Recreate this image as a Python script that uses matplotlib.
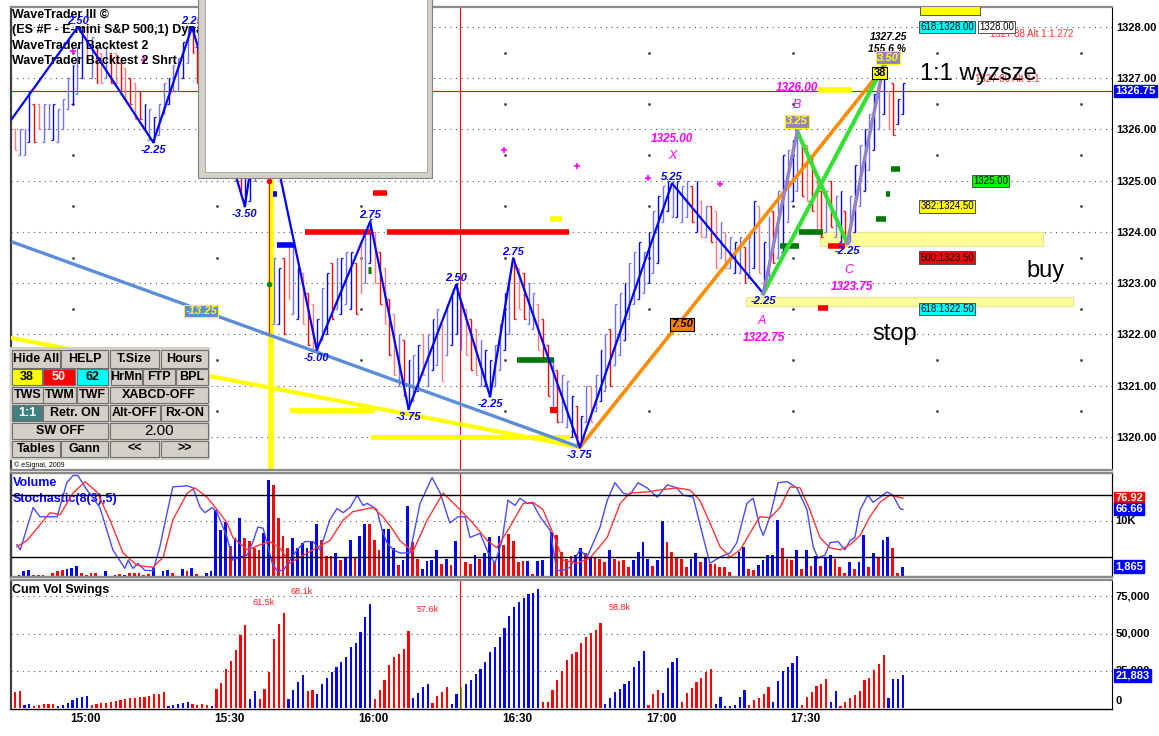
import numpy as np
import matplotlib
matplotlib.use("Agg")
import matplotlib.pyplot as plt
from matplotlib.patches import Rectangle

plt.rcParams['font.family'] = ['Liberation Sans', 'DejaVu Sans']

# ---- 1-minute bars (minutes from 15:00, first bar ~14:45) ----
bar_low = [
    1325.6, 1325.5, 1325.5, 1325.75, 1325.75, 1326.0, 1325.75, 1326.0, 1325.8, 1325.75,
    1326.0, 1326.4, 1326.5, 1326.7, 1327.0, 1327.3, 1327.0, 1326.9, 1326.9, 1327.0,
    1326.9, 1326.9, 1326.7, 1326.6, 1326.5, 1326.2, 1326.2, 1326.0, 1325.8, 1325.75,
    1325.9, 1326.3, 1326.5, 1326.75, 1326.75, 1327.0, 1327.3, 1327.5, 1326.9, 1326.6,
    1326.4, 1326.2, 1326.0, 1325.8, 1325.5, 1325.2, 1325.0, 1324.7, 1324.5, 1324.6,
    1325.0, 1325.6, 1325.8, 1325.0, 1322.2, 1322.2, 1322.0, 1322.7, 1322.4, 1322.3,
    1322.2, 1321.8, 1321.7, 1321.7, 1321.9, 1322.0, 1322.3, 1322.5, 1322.4, 1322.6,
    1322.5, 1322.4, 1322.8, 1323.0, 1323.4, 1323.0, 1322.6, 1322.2, 1321.6, 1321.2,
    1321.0, 1320.8, 1320.55, 1320.7, 1320.9, 1321.2, 1321.0, 1321.3, 1321.4, 1321.1,
    1321.6, 1321.8, 1322.0, 1321.7, 1321.6, 1321.3, 1321.2, 1321.0, 1321.0, 1320.8,
    1321.0, 1321.3, 1321.7, 1322.0, 1322.3, 1322.5, 1322.3, 1322.2, 1322.1, 1321.7,
    1321.5, 1320.8, 1320.5, 1320.3, 1320.3, 1320.2, 1320.0, 1319.8, 1319.8, 1320.3,
    1320.3, 1320.5, 1320.7, 1320.9, 1321.0, 1321.4, 1321.6, 1321.9, 1322.3, 1322.6,
    1322.7, 1322.8, 1323.0, 1323.2, 1323.4, 1324.2, 1324.4, 1324.3, 1324.3, 1324.2,
    1324.3, 1324.2, 1324.0, 1323.9, 1323.9, 1323.8, 1323.3, 1323.5, 1323.3, 1323.3,
    1323.2, 1323.2, 1323.0, 1323.1, 1323.3, 1323.2, 1322.8, 1323.0, 1323.4, 1323.5,
    1323.6, 1324.2, 1324.6, 1324.8, 1324.7, 1324.6, 1324.4, 1324.0, 1323.9, 1324.0,
    1324.1, 1323.9, 1323.8, 1323.8, 1323.8, 1324.0, 1324.5, 1324.8, 1325.2, 1325.6,
    1326.0, 1326.3, 1326.0, 1325.9, 1326.1, 1326.3]
bar_high = [
    1326.0, 1326.0, 1326.0, 1326.75, 1326.5, 1326.5, 1326.5, 1326.5, 1326.5, 1326.4,
    1326.6, 1327.0, 1327.25, 1327.6, 1328.0, 1328.0, 1327.8, 1327.6, 1327.5, 1327.6,
    1327.5, 1327.5, 1327.3, 1327.2, 1327.0, 1326.9, 1326.75, 1326.5, 1326.4, 1326.25,
    1326.5, 1326.9, 1327.0, 1327.25, 1327.4, 1327.7, 1328.0, 1328.0, 1327.6, 1327.3,
    1327.0, 1326.8, 1326.6, 1326.4, 1326.2, 1325.9, 1325.6, 1325.3, 1325.2, 1325.3,
    1326.0, 1326.75, 1326.6, 1326.2, 1323.5, 1323.3, 1323.5, 1323.8, 1323.8, 1323.3,
    1323.2, 1322.8, 1322.6, 1322.3, 1322.9, 1323.2, 1323.4, 1323.5, 1323.5, 1323.6,
    1323.6, 1323.4, 1323.8, 1324.0, 1324.25, 1324.0, 1323.6, 1323.3, 1322.7, 1322.4,
    1322.0, 1321.9, 1321.5, 1321.6, 1321.8, 1322.0, 1322.0, 1322.3, 1322.5, 1322.2,
    1322.6, 1322.8, 1323.0, 1322.6, 1322.5, 1322.3, 1322.1, 1321.9, 1321.7, 1321.5,
    1321.8, 1322.2, 1322.8, 1323.1, 1323.5, 1323.3, 1323.2, 1323.0, 1322.8, 1322.6,
    1322.3, 1321.8, 1321.5, 1321.3, 1321.2, 1321.1, 1320.8, 1320.6, 1320.4, 1321.0,
    1321.0, 1321.2, 1321.7, 1322.0, 1322.1, 1322.6, 1322.8, 1323.0, 1323.4, 1323.6,
    1323.8, 1323.6, 1324.0, 1324.4, 1324.7, 1324.9, 1325.0, 1325.0, 1325.0, 1324.9,
    1325.0, 1324.9, 1325.0, 1324.6, 1324.5, 1324.5, 1324.4, 1324.2, 1324.0, 1323.9,
    1323.8, 1323.9, 1323.7, 1323.9, 1324.6, 1324.5, 1323.8, 1324.3, 1324.4, 1324.8,
    1325.5, 1325.6, 1325.8, 1326.0, 1325.8, 1325.7, 1325.5, 1325.0, 1324.8, 1324.8,
    1325.0, 1324.7, 1324.8, 1324.4, 1324.7, 1325.3, 1325.7, 1326.0, 1326.3, 1326.7,
    1327.0, 1327.25, 1326.75, 1326.9, 1326.6, 1326.9]
# b/l = up (dark/light blue), r/p = down (red/pink)
bar_col = ("pllbrpllbl" "llblbplrpl" "rprprprblb" "llbllblrrp" "rprrprlrbb"
           "lbrrlbrplb" "prpblbrlbl" "brplbprprp" "lrblbplblp" "lbblprplbb"
           "llblrprllp" "rrlrllbrbl" "plblrllbll" "blblblblbl" "lrbplrplpl"
           "blrlbpblrl" "blblrprprl" "rlbrlblblb" "lbprbb")

# ---- volume (thousands) ----
volume = [0.4, 1.0, 1.3, 0.4, 0.4, 0.4, 0, 0.7, 1.0, 1.3,
          1.5, 1.6, 1.9, 0.7, 0.4, 0.7, 0.8, 0, 1.0, 0,
          0.4, 0.5, 0.4, 0.7, 0.8, 0.7, 0.4, 0.5, 1.6, 0,
          1.0, 1.3, 0.7, 0, 1.5, 1.0, 1.6, 0.5, 0, 0.7,
          1.0, 12.0, 8.4, 9.9, 5.5, 7.0, 10.6, 7.0, 6.4, 5.2,
          4.8, 7.8, 17.3, 16.4, 10.6, 7.3, 5.2, 7.0, 5.2, 6.1,
          5.2, 6.4, 9.4, 6.6, 3.8, 3.8, 4.3, 3.1, 3.4, 6.6,
          3.4, 7.3, 9.4, 9.4, 6.6, 4.8, 8.6, 8.6, 5.2, 2.2,
          3.0, 12.6, 6.3, 3.3, 1.5, 2.9, 3.0, 4.8, 2.4, 3.2,
          2.1, 6.4, 0, 2.7, 2.4, 3.9, 3.2, 4.2, 7.2, 2.7,
          7.3, 5.7, 7.6, 6.4, 2.7, 2.9, 2.9, 0.5, 2.9, 3.0,
          0, 8.1, 7.5, 4.5, 3.3, 3.75, 3.9, 5.2, 4.2, 3.6,
          3.5, 3.2, 2.7, 4.8, 3.2, 2.9, 3.0, 1.7, 3.0, 4.5,
          6.3, 3.3, 2.0, 3.0, 10.0, 6.3, 4.5, 3.5, 3.3, 1.8,
          3.3, 4.3, 2.6, 3.5, 2.4, 2.4, 1.8, 1.7, 0.95, 0,
          4.5, 5.3, 1.5, 1.25, 2.1, 3.0, 3.9, 3.9, 10.2, 5.1,
          3.2, 3.0, 4.8, 1.5, 4.9, 2.0, 3.75, 2.0, 3.6, 4.0,
          3.2, 1.7, 0.7, 2.6, 1.5, 2.7, 7.5, 1.8, 4.3, 3.5,
          6.6, 7.2, 5.1, 0.8, 1.8]
vol_col = ("bbbrrrrrrr" "bbbrrrrrbb" "brbrrrrrbb" "bbrrbrbrrb" "bbbbrbbrrr"
           "rbbrrrrbbb" "bbbrrrbrbb" "rbbrrrbbbr" "bbrrbbbbrb" "rbrrrbrbbr"
           "brrrrrbrbb" "bbrrrrbbrb" "rrrbrrrrbb" "bbrbbrrrrr" "bbrbrrrrrb"
           "bbrrbbbbbr" "rrbrbrbrbb" "rrrbrbbrbr" "bbrrb")

# ---- stochastic %K / %D ----
stoch_k_t = [-14.2, -13.5, -10.8, -9.4, -5.8, -3.8, -2.5, -1.5, 0.4, 3.1, 5.8, 8.3, 9.0, 10.0,
             11.0, 12.5, 14.2, 15.6, 17.1, 18.3, 21.3, 22.5, 24.0, 25.0, 26.5, 27.5, 29.6, 30.8,
             32.3, 33.8, 35.0, 36.0, 37.1, 37.9, 39.0, 40.0, 41.3, 42.7, 44.2, 45.8, 47.5, 49.0,
             51.0, 52.5, 53.8, 55.2, 56.7, 57.9, 58.8, 60.8, 61.9, 62.9, 64.2, 65.6, 67.7, 69.8,
             72.3, 74.0, 76.0, 77.7, 79.2, 80.2, 82.3, 84.0, 85.4, 86.9, 88.1, 89.6, 90.6, 92.1,
             93.3, 94.8, 96.9, 98.3, 99.6, 101.0, 103.1, 104.6, 107.3, 108.8, 110.4, 112.1, 113.5,
             115.2, 117.1, 119.2, 121.3, 123.3, 124.6, 126.7, 128.8, 130.2, 132.3, 134.4, 135.8,
             137.9, 139.2, 140.6, 141.3, 142.7, 144.4, 146.3, 148.3, 150.4, 151.7, 152.7, 154.2,
             155.2, 156.9, 158.3, 159.4, 160.4, 161.5, 163.1, 164.2, 167.1, 168.3, 169.8, 170.4]
stoch_k = [32, 27, 68, 59, 59, 92, 99, 99, 85, 68, 27, 9, 17, 9, 14, 7, 7, 30, 63, 88, 89, 87,
           68, 63, 68, 63, 39, 17, 20, 22, 35, 49, 48, 34, 14, 7, 7, 17, 27, 35, 35, 27, 56, 67,
           63, 68, 80, 70, 72, 66, 46, 34, 27, 24, 24, 72, 97, 82, 53, 59, 59, 39, 43, 24, 14,
           36, 75, 70, 77, 72, 72, 59, 46, 7, 7, 10, 27, 20, 49, 75, 92, 82, 80, 92, 87, 78, 90,
           87, 80, 78, 39, 14, 20, 24, 34, 72, 77, 49, 41, 59, 92, 93, 87, 66, 30, 19, 22, 34,
           35, 27, 36, 39, 66, 80, 73, 83, 80, 67, 66]
stoch_d_t = [-14.2, -12.1, -7.3, -5.2, -2.5, 0.0, 2.5, 5.2, 7.9, 10.8, 14.2, 16.3, 18.3, 21.3,
             22.9, 25.4, 27.5, 29.6, 30.8, 33.8, 36.5, 38.5, 40.6, 42.7, 44.8, 47.5, 51.0, 53.8,
             55.8, 57.9, 60.0, 62.1, 64.2, 65.6, 68.3, 71.3, 74.6, 78.1, 80.8, 83.8, 85.8, 88.5,
             91.3, 93.3, 95.4, 97.5, 99.6, 102.5, 105.2, 108.8, 111.5, 113.5, 117.1, 119.8, 123.3,
             126.0, 128.1, 130.2, 132.3, 134.4, 136.5, 138.5, 140.6, 142.7, 144.8, 146.9, 149.0,
             151.0, 153.1, 155.2, 157.3, 159.4, 161.5, 163.5, 165.6, 167.7, 170.4]
stoch_d = [30, 36, 63, 61, 82, 93, 83, 56, 24, 12, 10, 20, 56, 82, 87, 78, 66, 53, 39, 27, 32,
           35, 29, 14, 20, 27, 36, 56, 64, 66, 68, 59, 46, 36, 25, 56, 82, 66, 53, 36, 29, 49,
           72, 73, 66, 43, 17, 14, 19, 39, 72, 82, 83, 85, 87, 85, 75, 53, 30, 20, 27, 43, 59,
           58, 68, 88, 87, 66, 39, 29, 27, 32, 41, 59, 73, 80, 77]

# ---- cumulative volume swings (thousands) ----
cum_vol = [10.9, 11.6, 2.0, 2.4, 1.3, 2.0, 2.4, 2.4, 2.4, 1.3,
           2.0, 3.1, 5.3, 6.4, 7.6, 8.0, 2.0, 2.4, 3.1, 3.1,
           3.8, 4.7, 5.3, 5.8, 6.4, 6.9, 7.1, 7.6, 8.0, 9.3,
           9.3, 10.9, 1.3, 2.0, 2.4, 3.1, 4.2, 2.7, 2.0, 2.4,
           2.0, 1.3, 12.7, 17.1, 26.0, 31.3, 38.7, 49.1, 56.0, 5.8,
           11.6, 5.8, 12.7, 24.2, 46.4, 56.4, 63.8, 5.8, 12.0, 17.6,
           22.0, 11.6, 12.0, 9.3, 16.4, 20.2, 24.2, 27.6, 30.9, 34.2,
           40.9, 43.8, 51.3, 60.9, 70.2, 6.0, 12.0, 18.7, 28.7, 34.2,
           36.4, 39.8, 52.0, 6.4, 10.2, 14.2, 15.8, 3.1, 8.0, 10.9,
           14.2, 2.4, 9.3, 14.2, 16.4, 19.1, 23.1, 26.4, 30.9, 37.6,
           40.9, 48.0, 53.8, 61.6, 68.0, 70.9, 74.2, 76.4, 77.1, 80.2,
           3.8, 3.8, 12.0, 18.7, 24.7, 32.4, 36.4, 37.6, 43.6, 47.6,
           50.4, 52.4, 57.1, 2.4, 6.4, 10.9, 13.1, 16.4, 18.2, 27.6,
           31.6, 38.0, 2.0, 9.3, 12.4, 10.2, 27.1, 30.9, 33.8, 3.8,
           9.8, 13.6, 17.6, 20.4, 24.2, 26.4, 2.7, 7.1, 1.3, 1.3,
           2.0, 7.1, 12.4, 2.0, 5.3, 6.4, 9.3, 13.8, 3.8, 18.2,
           24.9, 27.6, 30.2, 34.7, 2.0, 7.6, 10.9, 14.7, 16.4, 19.3,
           4.2, 11.3, 1.3, 4.2, 6.4, 8.7, 11.3, 18.7, 20.4, 25.3,
           29.3, 35.3, 6.9, 19.3, 19.8, 22.0]
cum_col = ("rrbbrrrrrb" "bbbbbbrrrr" "rrrrrrrrrr" "rrbbbbbrrr" "rbrrrrrrrb"
           "brrrrrrbbb" "brrbbbbbbb" "bbbbbrrrrr" "rrrbbbbrrr" "rbbgbbbbbb"
           "bbbbbbbbbb" "rrrrrrrrrr" "rrrbbbbbbb" "bbrrrbbbbr" "rrrrrrbbbb"
           "bbbrrrrrbb" "bbbbrrrrrr" "bbrrrrrrrr" "rrbbbb")
cum_notes = [(37.1, 70.7, "61.5k"), (45.2, 78.0, "68.1k"), (71.5, 66.0, "57.6k"), (111.3, 67.3, "58.8k")]

# ---- wave zigzag (swing points) ----
zz_t = [-15.3, -1.5, 14.2, 22.3, 33.3, 36.9, 48.3, 59.4, 67.4, 77.3, 84.4, 89.2,
        103.1, 122.3, 141.3, 148.4, 158.8, 166.4]
zz_p = [1326.2, 1328.0, 1325.75, 1328.0, 1324.5, 1326.75, 1321.7, 1324.2, 1320.55, 1322.97,
        1320.79, 1323.49, 1319.8, 1324.95, 1322.8, 1325.96, 1323.78, 1327.25]
zz_lab = ["", "2.50", "-2.25", "2.25", "-3.50", "", "-5.00", "2.75", "-3.75", "2.50",
          "-2.25", "2.75", "-3.75", "5.25", "-2.25", "", "-2.25", ""]

fib_boxes = [("618:1328.00", 1328.0, "#00FFFF"), ("382:1324.50", 1324.5, "#FFFF00"),
             ("500:1323.50", 1323.5, "#FF0000"), ("618:1322.50", 1322.5, "#00FFFF")]

time_ticks = [0, 30, 60, 90, 120, 150]
time_labels = ["15:00", "15:30", "16:00", "16:30", "17:00", "17:30"]
price_ticks = [1320, 1321, 1322, 1323, 1324, 1325, 1326, 1327, 1328]
last_price = 1326.75
red_marker_t = 78.1

colmap = {'b': '#0000FF', 'l': '#6E6EFF', 'r': '#FF0000', 'p': '#FF7C7C', 'g': '#00DD00'}
MAG = '#FF00FF'

W, H = 1159.0, 736.0
fig = plt.figure(figsize=(W / 100, H / 100), dpi=100)
fig.patch.set_facecolor('white')


def rect(l, t, r, b):
    return [l / W, 1 - b / H, (r - l) / W, (b - t) / H]


ax = fig.add_axes(rect(11, 7, 1112, 470))
ax_v = fig.add_axes(rect(11, 473, 1112, 577), sharex=ax)
ax_s = ax_v.twinx()
ax_c = fig.add_axes(rect(11, 580, 1112, 709), sharex=ax)

ax.set_xlim(-15.42, 213.96)
ax.set_ylim(1319.356, 1328.39)

for a in (ax, ax_v, ax_s, ax_c):
    a.spines['left'].set_color('#404040')
    a.spines['left'].set_linewidth(1.6)
    a.spines['right'].set_color('black')
    a.spines['top'].set_color('#8a8a8a')
    a.spines['top'].set_linewidth(1.6)
    a.spines['bottom'].set_color('#8a8a8a')
    a.spines['bottom'].set_linewidth(1.6)
ax_c.spines['bottom'].set_color('black')
ax_c.spines['bottom'].set_linewidth(1.0)

# ---------------- main price panel ----------------
ax.yaxis.tick_right()
ax.set_yticks(price_ticks)
ax.set_yticklabels([f"{p:.2f}" for p in price_ticks], fontsize=8, fontweight='bold')
ax.tick_params(axis='y', length=0, pad=3)
ax.tick_params(axis='x', bottom=False, labelbottom=False)
ax.grid(axis='y', linestyle=(0, (1, 4)), color='#555555', linewidth=0.8)
ax.set_axisbelow(True)

# sparse dot columns of the time grid
grid_t = [-2.5, 27.5, 57.5, 87.5, 117.5, 147.5, 177.5, 207.5]
half_p = [1320.5, 1321.5, 1322.5, 1323.5, 1324.5, 1325.5, 1326.5, 1327.5]
gt, gp = np.meshgrid(grid_t, half_p)
ax.plot(gt.ravel(), gp.ravel(), 's', ms=0.9, color='#444444', zorder=1)

ax.axhline(last_price, color='red', lw=0.8, zorder=2)
ax.axvline(red_marker_t, color='red', lw=0.8, zorder=2)
ax.axvline(38.75, color='#FFFF00', lw=4, zorder=2)
ax.plot([38.3, 38.3], [1325.0, 1322.0], color='red', lw=0.8, zorder=3)
ax.plot([38.3], [1325.0], 'o', ms=3, color='red', zorder=3)
ax.plot([38.3], [1322.99], 'o', ms=3, color='#008800', zorder=3)

# highlighted bands
for t0, t1, p0, p1 in [(153.1, 199.6, 1323.73, 1324.0), (137.7, 205.8, 1322.56, 1322.73)]:
    ax.add_patch(Rectangle((t0, p0), t1 - t0, p1 - p0, fc='#FFFF99', ec='#E6E6A0', lw=1, zorder=2))

# bars
bar_t = np.arange(len(bar_low)) - 14.6
bcols = [colmap[c] for c in bar_col]
up = np.array([c in 'bl' for c in bar_col])
lo = np.array(bar_low)
hi = np.array(bar_high)
ax.vlines(bar_t, lo, hi, colors=bcols, lw=1.0, zorder=3)
ax.hlines(np.where(up, lo, hi), bar_t - 0.4, bar_t, colors=bcols, lw=0.9, zorder=3)
ax.hlines(np.where(up, hi, lo), bar_t, bar_t + 0.4, colors=bcols, lw=0.9, zorder=3)

# trend lines
ax.plot([-15.3, 103.1], [1323.81, 1319.8], color='#5B8ED6', lw=2.4, zorder=4, solid_capstyle='butt')
ax.plot([-15.2, 103.1], [1321.93, 1319.8], color='#FFFF00', lw=3, zorder=3)
ax.plot([43.1, 59.8], [1320.53, 1320.53], color='#FFFF00', lw=3.5, zorder=3)
ax.plot([60.0, 100.4], [1320.0, 1320.0], color='#FFFF00', lw=3.5, zorder=3)
ax.plot([103.1, 165.0], [1319.8, 1327.05], color='#FF8C00', lw=2.6, zorder=5)

# level dashes
dashes = [(45.8, 59.8, 1324.0, 'red', 4), (62.9, 100.8, 1324.0, 'red', 4),
          (60.0, 62.9, 1324.76, 'red', 4), (40.0, 43.75, 1323.75, '#0000FF', 4),
          (39.2, 40.0, 1324.74, '#0000FF', 4), (90.0, 97.7, 1321.5, '#007700', 4),
          (96.9, 98.5, 1320.53, 'red', 4.5), (96.9, 99.4, 1324.25, '#FFFF00', 4),
          (152.7, 154.8, 1322.52, 'red', 4), (154.8, 158.3, 1323.73, 'red', 4),
          (144.8, 148.75, 1323.73, '#007700', 4), (148.75, 153.75, 1324.0, '#007700', 4),
          (167.9, 169.8, 1325.23, '#007700', 4), (166.9, 167.7, 1324.74, '#007700', 4),
          (164.8, 166.9, 1324.25, '#007700', 4), (152.7, 159.8, 1326.77, '#FFFF00', 4),
          (59.0, 59.6, 1323.26, '#007700', 5)]
for t0, t1, p, c, w in dashes:
    ax.plot([t0, t1], [p, p], color=c, lw=w, solid_capstyle='butt', zorder=3)

# magenta pivot marks
mag_t = [-2.5, 12.3, 87.3, 102.5, 117.3, 132.3]
mag_p = [1327.53, 1327.36, 1325.6, 1325.29, 1325.05, 1324.94]
ax.plot(mag_t, mag_p, '+', color=MAG, ms=4, mew=1.2, zorder=4)

# zigzag + harmonic pattern
ax.plot(zz_t, zz_p, color='#0000FF', lw=1.6, zorder=5)
ax.plot([zz_t[14], zz_t[17]], [zz_p[14], zz_p[17]], color='#33E033', lw=3, zorder=5)
ax.plot([zz_t[15], zz_t[16]], [zz_p[15], zz_p[16]], color='#33E033', lw=3, zorder=5)
ax.plot([zz_t[14], zz_t[15]], [zz_p[14], zz_p[15]], color='#9482C4', lw=2.4, zorder=6)
ax.plot([zz_t[16], zz_t[17]], [zz_p[16], zz_p[17]], color='#9482C4', lw=2.4, zorder=6)

for i, lab in enumerate(zz_lab):
    if not lab:
        continue
    high = not lab.startswith('-')
    ax.annotate(lab, (zz_t[i], zz_p[i]), xytext=(0, 1 if high else -2), textcoords='offset points',
                ha='center', va='bottom' if high else 'top', color='#0000FF',
                fontsize=8, fontweight='bold', style='italic', zorder=7)

lab_kw = dict(ha='center', va='center', zorder=8)
ax.text(122.3, 1325.81, "1325.00", color=MAG, fontsize=8.5, fontweight='bold', style='italic', **lab_kw)
ax.text(122.3, 1325.48, "X", color=MAG, fontsize=9, style='italic', **lab_kw)
ax.text(148.3, 1326.48, "B", color=MAG, fontsize=9, style='italic', **lab_kw)
ax.text(148.3, 1326.81, "1326.00", color=MAG, fontsize=8.5, fontweight='bold', style='italic', **lab_kw)
ax.text(159.2, 1323.26, "C", color=MAG, fontsize=9, style='italic', **lab_kw)
ax.text(159.8, 1322.93, "1323.75", color=MAG, fontsize=8.5, fontweight='bold', style='italic', **lab_kw)
ax.text(141.0, 1322.26, "A", color=MAG, fontsize=9, style='italic', **lab_kw)
ax.text(141.5, 1321.93, "1322.75", color=MAG, fontsize=8.5, fontweight='bold', style='italic', **lab_kw)
ax.text(167.3, 1327.8, "1327.25", color='black', fontsize=7.5, fontweight='bold', style='italic', **lab_kw)
ax.text(167.1, 1327.57, "155.6 %", color='black', fontsize=7.5, fontweight='bold', style='italic', **lab_kw)


def tag(x, y, s, fc, tc, ec, fs=8, italic=True, ha='center'):
    ax.text(x, y, s, color=tc, fontsize=fs, fontweight='bold', style='italic' if italic else 'normal',
            ha=ha, va='center', zorder=9,
            bbox=dict(boxstyle='square,pad=0.12', fc=fc, ec=ec, lw=0.8))


tag(148.3, 1326.16, "3.25", '#9482C4', '#FFFF00', '#FFFF00')
tag(167.3, 1327.4, "3.50", '#9482C4', '#FFFF00', '#FFFF00')
tag(165.6, 1327.1, "38", '#FFFF00', 'black', 'black', italic=False)
tag(24.2, 1322.46, "-13.25", '#5B8ED6', '#FFFF00', '#FFFF00')
tag(124.4, 1322.2, "7.50", '#FF8000', 'black', 'black')

for s, p, c in fib_boxes:
    ax.text(174.0, p, s, fontsize=7, ha='left', va='center', zorder=9, color='black',
            bbox=dict(boxstyle='square,pad=0.12', fc=c, ec='#505050', lw=0.7))
ax.text(185.0, 1325.0, "1325.00", fontsize=7, ha='left', va='center', zorder=9,
        bbox=dict(boxstyle='square,pad=0.12', fc='#00FF00', ec='#505050', lw=0.7))
ax.text(188.5, 1327.86, "1327.88 Alt 1:1.272", fontsize=7, color='#FF3030', ha='left', va='center', zorder=8)
ax.text(186.25, 1328.0, "1328.00", fontsize=7, ha='left', va='center', zorder=9,
        bbox=dict(boxstyle='square,pad=0.12', fc='white', ec='#505050', lw=0.7))
ax.text(185.4, 1326.99, "1327.00 Alt 1:1", fontsize=7, color='#FF3030', ha='left', va='center', zorder=8)
ax.add_patch(Rectangle((174.0, 1328.24), 12.4, 0.3, fc='#FFFF00', ec='#505050', lw=0.7, zorder=9, clip_on=True))
ax.text(174.0, 1327.08, "1:1 wyzsze", fontsize=17, ha='left', va='center', zorder=10)
ax.text(200.2, 1323.24, "buy", fontsize=17, ha='center', va='center', zorder=10)
ax.text(168.75, 1322.01, "stop", fontsize=17, ha='center', va='center', zorder=10)

ax.text(1.003, last_price, f"{last_price:.2f}", transform=ax.get_yaxis_transform(), color='white',
        fontsize=8, fontweight='bold', ha='left', va='center', zorder=10,
        bbox=dict(boxstyle='square,pad=0.1', fc='#0000FF', ec='#0000FF'))

# study titles (drawn under the white box)
header = ["WaveTrader III ©", "(ES #F - E-mini S&P 500,1) Dynamic",
          "WaveTrader Backtest 2", "WaveTrader Backtest 2 Shrt"]
for i, s in enumerate(header):
    ax.text(1.5 / 1101, 1 - (8 + 15.4 * i) / 463, s, transform=ax.transAxes, fontsize=9,
            fontweight='bold', ha='left', va='center', zorder=4)

# ---------------- volume + stochastic ----------------
vol_t = np.arange(len(volume)) - 13.75
ax_v.bar(vol_t, volume, width=0.55, color=[colmap[c] for c in vol_col], zorder=2)
ax_v.set_ylim(0, 18.57)
ax_v.axhline(10, linestyle=(0, (1, 4)), color='#555555', lw=0.8)
ax_v.axvline(red_marker_t, color='red', lw=0.8)
ax_s.plot(stoch_k_t, stoch_k, color='#4A4AFF', lw=1.0)
ax_s.plot(stoch_d_t, stoch_d, color='#FF3535', lw=1.0)
ax_s.axhline(80, color='black', lw=1)
ax_s.axhline(20, color='black', lw=1)
ax_s.set_ylim(0.7, 101.4)
for a in (ax_v, ax_s):
    a.tick_params(left=False, right=False, bottom=False, labelleft=False, labelright=False,
                  labelbottom=False)
ax_v.text(1.5 / 1101, 0.9, "Volume", transform=ax_v.transAxes, color='#0000FF', fontsize=9,
          fontweight='bold', ha='left', va='center')
ax_v.text(1.5 / 1101, 0.75, "Stochastic(8(3),5)", transform=ax_v.transAxes, color='#0000FF',
          fontsize=9, fontweight='bold', ha='left', va='center')


def side(a, y, s, fc=None, tc='black'):
    kw = dict(transform=a.get_yaxis_transform(), fontsize=8, fontweight='bold', ha='left',
              va='center', color=tc, clip_on=False, zorder=10)
    if fc:
        kw['bbox'] = dict(boxstyle='square,pad=0.1', fc=fc, ec=fc)
    a.text(1.003, y, s, **kw)


side(ax_s, 76.92, "76.92", '#FF0000', 'white')
side(ax_s, 66.66, "66.66", '#0000FF', 'white')
side(ax_v, 10.0, "10K")
side(ax_v, 1.865, "1,865", '#0000FF', 'white')

# ---------------- cumulative volume swings ----------------
cum_t = np.arange(len(cum_vol)) - 14.6
ax_c.bar(cum_t, cum_vol, width=0.45, color=[colmap[c] for c in cum_col], zorder=2)
ax_c.set_ylim(-0.67, 86)
for lv in (25, 50, 75):
    ax_c.axhline(lv, linestyle=(0, (1, 4)), color='#555555', lw=0.8, zorder=1)
ax_c.axvline(red_marker_t, color='red', lw=0.8)
for t, v, s in cum_notes:
    ax_c.text(t, v, s, color='#FF2020', fontsize=6.5, ha='center', va='center')
ax_c.text(1.5 / 1101, 0.92, "Cum Vol Swings", transform=ax_c.transAxes, fontsize=9,
          fontweight='bold', ha='left', va='center')
ax_c.set_xticks(time_ticks)
ax_c.set_xticklabels(time_labels, fontsize=8.5, fontweight='bold')
ax_c.tick_params(axis='x', length=0, pad=3)
ax_c.tick_params(axis='y', left=False, labelleft=False)
side(ax_c, 75, "75,000")
side(ax_c, 50, "50,000")
side(ax_c, 25, "25,000")
side(ax_c, 5, "0")
side(ax_c, 21.883, "21,883", '#0000FF', 'white')

# ---------------- overlays (figure level) ----------------
def frect(l, t, r, b, fc, ec='none', lw=0.0, z=4):
    fig.add_artist(Rectangle((l / W, 1 - b / H), (r - l) / W, (b - t) / H, transform=fig.transFigure,
                             fc=fc, ec=ec, lw=lw, zorder=z))


# empty white pop-up window
frect(198, -2, 432, 178, '#D4D0C8', '#808080', 0.8, 4)
frect(205, -2, 427, 172, 'white', '#A0A0A0', 0.6, 4.1)

# button panel
frect(10, 347, 210, 460, '#D4D0C8', z=5)
buttons = [
    ("Hide All", 12, 350, 60, 368, '#D4D0C8', 'black'), ("HELP", 61, 350, 108, 368, '#D4D0C8', 'black'),
    ("T.Size", 110, 350, 159, 368, '#D4D0C8', 'black'), ("Hours", 161, 350, 208, 368, '#D4D0C8', 'black'),
    ("38", 12, 369, 42, 385, '#FFFF00', 'black'), ("50", 43, 369, 75, 385, '#FF0000', 'white'),
    ("62", 77, 369, 108, 385, '#00FFFF', 'black'), ("HrMn", 111, 369, 142, 385, '#D4D0C8', 'black'),
    ("FTP", 143, 369, 175, 385, '#D4D0C8', 'black'), ("BPL", 176, 369, 208, 385, '#D4D0C8', 'black'),
    ("TWS", 12, 387, 43, 403, '#D4D0C8', 'black'), ("TWM", 43, 387, 76, 403, '#D4D0C8', 'black'),
    ("TWF", 77, 387, 108, 403, '#D4D0C8', 'black'), ("XABCD-OFF", 110, 387, 208, 403, '#D4D0C8', 'black'),
    ("1:1", 12, 405, 42, 421, '#408080', 'white'), ("Retr. ON", 43, 405, 108, 421, '#D4D0C8', 'black'),
    ("Alt-OFF", 110, 405, 160, 421, '#D4D0C8', 'black'), ("Rx-ON", 161, 405, 208, 421, '#D4D0C8', 'black'),
    ("SW OFF", 12, 423, 108, 439, '#D4D0C8', 'black'), ("2.00", 110, 423, 208, 439, '#D4D0C8', 'black'),
    ("Tables", 12, 441, 60, 457, '#D4D0C8', 'black'), ("Gann", 61, 441, 108, 457, '#D4D0C8', 'black'),
    ("<<", 110, 441, 159, 457, '#D4D0C8', 'black'), (">>", 161, 441, 208, 457, '#D4D0C8', 'black'),
]
for s, l, t, r, b, fc, tc in buttons:
    frect(l, t, r, b, fc, '#707070', 0.8, 5.5)
    big = s == "2.00"
    fig.text((l + r) / 2 / W, 1 - (t + b) / 2 / H, s, ha='center', va='center', color=tc,
             fontsize=11 if big else 9, fontweight='normal' if big else 'bold', zorder=6)
fig.text(14 / W, 1 - 465 / H, "© eSignal, 2009", fontsize=5, ha='left', va='center', zorder=6)

fig.savefig("out.png", dpi=100, facecolor='white')
